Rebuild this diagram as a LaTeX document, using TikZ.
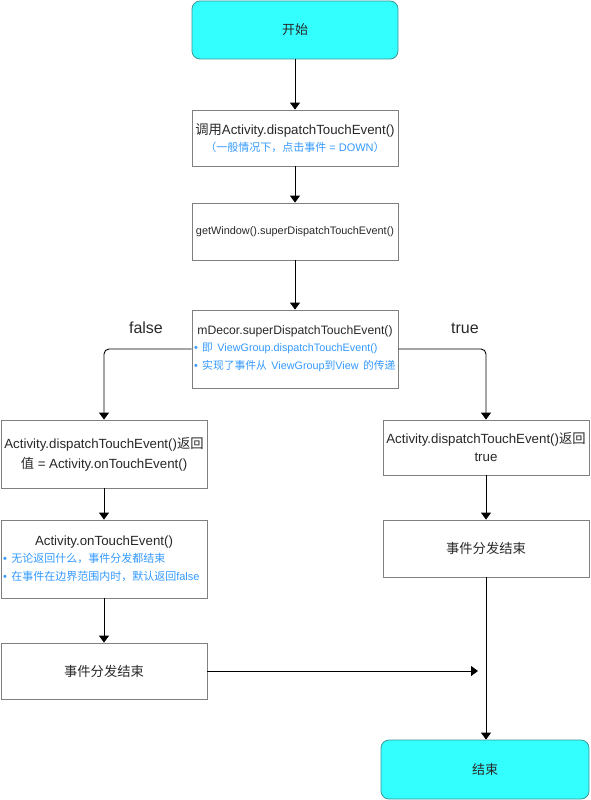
\documentclass[tikz,border=0pt]{standalone}
\usepackage{fontspec}
\setmainfont{Liberation Sans}
\newfontfamily\cjk{Noto Sans CJK SC}
\newcommand{\zh}[1]{{\cjk #1}}
\usetikzlibrary{arrows.meta}
\definecolor{termfill}{RGB}{51,255,255}
\definecolor{termline}{RGB}{60,150,150}
\definecolor{boxline}{RGB}{128,128,128}
\definecolor{noteblue}{RGB}{51,153,255}
\definecolor{txt}{RGB}{40,40,40}

\begin{document}
\begin{tikzpicture}[x=1pt,y=-1pt,
	box/.style={draw=boxline,line width=0.8pt,minimum width=206pt,inner xsep=3pt,text=txt,align=center,font=\fontsize{13.3}{18}\selectfont},
	term/.style={draw=termline,fill=termfill,line width=0.8pt,rounded corners=8pt,minimum width=206pt,text=txt,font=\fontsize{13}{16}\selectfont},
	arr/.style={line width=0.9pt,-{Triangle[width=10pt,length=7pt]}},
	lab/.style={font=\fontsize{16}{18}\selectfont,text=txt}]
	\useasboundingbox (0,0) rectangle (590,800);

	%boxes
	\node[term,minimum height=58pt] (start) at (295,30) {\zh{开始}};
	\node[box,minimum height=56pt,font=\fontsize{13.3}{17}\selectfont] (call) at (295,138)
		{\zh{调用}Activity.dispatchTouchEvent()\\
		{\color{noteblue}\fontsize{11}{17}\selectfont\zh{（一般情况下，点击事件} = DOWN\zh{）}}};
	\node[box,minimum height=57pt,inner xsep=0.5pt,font=\fontsize{10.9}{14}\selectfont] (win) at (295,231.5)
		{getWindow().superDispatchTouchEvent()};
	\node[box,minimum height=78pt,text width=202pt,inner xsep=2pt,align=left] (dec) at (295,349)
		{\centering\fontsize{12.2}{18}\selectfont mDecor.superDispatchTouchEvent()\par
		\raggedright\color{noteblue}\fontsize{10.8}{17}\selectfont
		\mbox{• \zh{即} ViewGroup.dispatchTouchEvent()}\\
		\mbox{• \zh{实现了事件从} ViewGroup\zh{到}View \zh{的传递}}};
	\node[box,minimum height=68pt,font=\fontsize{13.3}{20}\selectfont] (ldisp) at (104,454)
		{Activity.dispatchTouchEvent()\zh{返回}\\\zh{值} = Activity.onTouchEvent()};
	\node[box,minimum height=78pt,text width=202pt,inner xsep=2pt,align=left] (ltouch) at (104,559)
		{\centering\fontsize{13.3}{18}\selectfont Activity.onTouchEvent()\par
		\raggedright\color{noteblue}\fontsize{11}{17}\selectfont
		\mbox{• \zh{无论返回什么，事件分发都结束}}\\
		\mbox{• \zh{在事件在边界范围内时，默认返回}false}};
	\node[box,minimum height=56pt] (lend) at (104,671) {\zh{事件分发结束}};
	\node[box,minimum height=55pt] (rdisp) at (486,447.5)
		{Activity.dispatchTouchEvent()\zh{返回}\\true};
	\node[box,minimum height=57pt] (rend) at (486,548.5) {\zh{事件分发结束}};
	\node[term,minimum height=59pt,minimum width=208pt] (stop) at (485,769.5) {\zh{结束}};

	%labels
	\node[lab] (lfalse) at (146,328) {false};
	\node[lab] (ltrue) at (465,328) {true};

	%arrows
	\draw[arr] (start) -- (call);
	\draw[arr] (call) -- (win);
	\draw[arr] (win) -- (dec);
	\draw[arr,rounded corners=5pt] (dec.west) -| (ldisp.north);
	\draw[arr,rounded corners=5pt] (dec.east) -| (rdisp.north);
	\draw[arr] (ldisp) -- (ltouch);
	\draw[arr] (ltouch) -- (lend);
	\draw[arr] (rdisp) -- (rend);
	\draw[arr] (rend.south) -- (rend.south |- stop.north);
	\coordinate (join) at (rend.south |- lend.east);
	\draw[arr,shorten >=8pt] (lend.east) -- (join);
\end{tikzpicture}
\end{document}
